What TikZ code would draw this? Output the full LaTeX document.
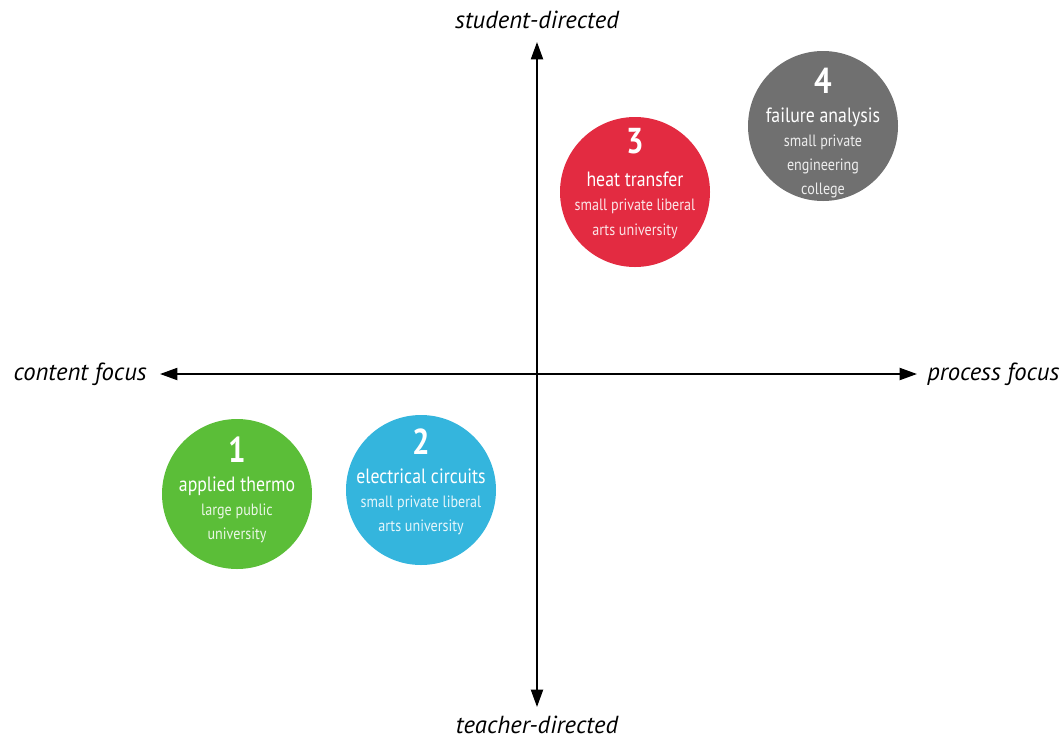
\documentclass[tikz,border=0pt]{standalone}
\usepackage{fontspec}
\usetikzlibrary{arrows.meta,calc}
\setmainfont{PT Sans}
\newfontfamily\circfont{PT Sans}[FakeStretch=0.86]
\newfontfamily\axisfont{PT Sans}
\definecolor{cgreen}{RGB}{91,190,56}
\definecolor{cblue}{RGB}{52,181,221}
\definecolor{cred}{RGB}{227,43,65}
\definecolor{cgray}{RGB}{112,112,112}
\tikzset{
  axis/.style={line width=1.5pt, {Triangle[length=13pt,width=9pt]}-{Triangle[length=13pt,width=9pt]}},
  axislabel/.style={font=\axisfont\itshape\fontsize{18.5}{20}\selectfont, inner sep=0pt},
  bubble/.style={circle, minimum size=112.5pt, inner sep=0pt, draw=none},
  digit/.style={anchor=base, inner sep=0pt, text=white, font=\circfont\bfseries\fontsize{27}{28}\selectfont},
  title/.style={anchor=base, inner sep=0pt, text=white, font=\circfont\fontsize{15.5}{17}\selectfont},
  sub/.style={anchor=base, inner sep=0pt, text=white, text opacity=0.88, font=\circfont\fontsize{12.3}{13}\selectfont},
}
\begin{document}
\begin{tikzpicture}[x=0.75pt,y=-0.75pt]
\useasboundingbox (0,0) rectangle (1064,740);

% axes
\coordinate (top) at (537,42);
\coordinate (bottom) at (537,707);
\coordinate (left) at (160,374);
\coordinate (right) at (917,374);
\draw[axis] (bottom) -- (top);
\draw[axis] (left) -- (right);

\node[axislabel, anchor=base] (lt) at (537,28) {student-directed};
\node[axislabel, anchor=base] (lb) at (537,733) {teacher-directed};
\node[axislabel, anchor=east] (ll) at (147,374) {content focus};
\node[axislabel, anchor=west] (lr) at (927,374) {process focus};

% bubble 1
\node[bubble, fill=cgreen] (c1) at (237,494) {};
\node[digit] (d1) at (237,462) {1};
\node[title] (t1) at (237,491) {applied thermo};
\node[sub] (s1a) at (237,515) {large public};
\node[sub] (s1b) at (237,539) {university};

% bubble 2
\node[bubble, fill=cblue] (c2) at (421,490) {};
\node[digit] (d2) at (421,454) {2};
\node[title] (t2) at (421,483) {electrical circuits};
\node[sub] (s2a) at (421,507) {small private liberal};
\node[sub] (s2b) at (421,531) {arts university};

% bubble 3
\node[bubble, fill=cred] (c3) at (635,192) {};
\node[digit] (d3) at (635,153) {3};
\node[title] (t3) at (635,186) {heat transfer};
\node[sub] (s3a) at (635,210) {small private liberal};
\node[sub] (s3b) at (635,235) {arts university};

% bubble 4
\node[bubble, fill=cgray] (c4) at (823,126) {};
\node[digit] (d4) at (823,93) {4};
\node[title] (t4) at (823,122) {failure analysis};
\node[sub] (s4a) at (823,146) {small private};
\node[sub] (s4b) at (823,170) {engineering};
\node[sub] (s4c) at (823,194) {college};
\end{tikzpicture}
\end{document}
